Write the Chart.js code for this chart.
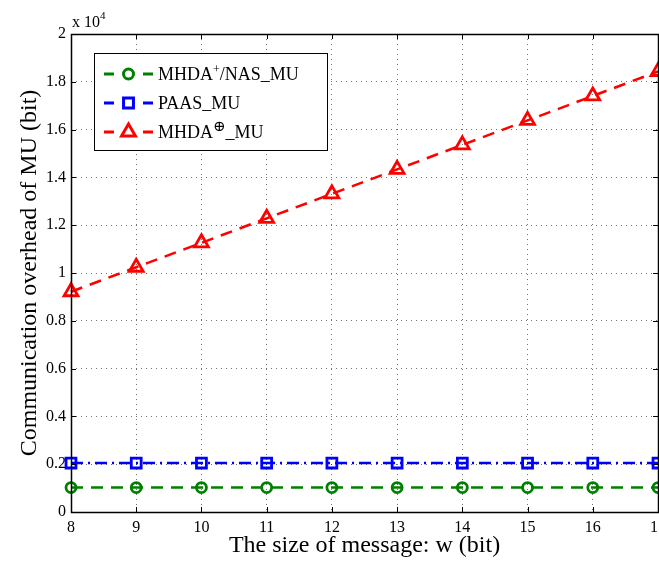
<!DOCTYPE html>
<html>
<head>
<meta charset="utf-8">
<title>Communication overhead of MU</title>
<script src="https://cdn.jsdelivr.net/npm/chart.js"></script>
<style>
  html, body { margin: 0; padding: 0; background: #fff; overflow: hidden; }
  #wrap { width: 659px; height: 563px; overflow: hidden; }
</style>
</head>
<body>
<div id="wrap"><canvas id="overheadChart" width="720" height="563"></canvas></div>
<script>
// --- Data (bits) ---
const msgSizes = [8, 9, 10, 11, 12, 13, 14, 15, 16, 17];
const nasOverhead = [1024, 1024, 1024, 1024, 1024, 1024, 1024, 1024, 1024, 1024];
const paasOverhead = [2048, 2048, 2048, 2048, 2048, 2048, 2048, 2048, 2048, 2048];
const mhdaOverhead = [9216, 10240, 11264, 12288, 13312, 14336, 15360, 16384, 17408, 18432];
const yTickValues = [0, 2000, 4000, 6000, 8000, 10000, 12000, 14000, 16000, 18000, 20000];

const SERIF = '"Liberation Serif", "Times New Roman", "DejaVu Serif", serif';

// legend entries: text pieces, sup = superscript
const legendItems = [
    { parts: [{ t: 'MHDA' }, { t: '+', sup: true, size: 12 }, { t: '/NAS_MU' }], color: '#008000', style: 'circle', radius: 5 },
    { parts: [{ t: 'PAAS_MU' }], color: '#0000ff', style: 'rect', radius: 7 },
    { parts: [{ t: 'MHDA' }, { t: '\u2295', sup: true, size: 15 }, { t: '_MU' }], color: '#ff0000', style: 'triangle', radius: 8 }
];

const toPoints = (vals) => msgSizes.map((x, i) => ({ x: x, y: vals[i] }));

// --- box, inward ticks, exponent label and legend (MATLAB look) ---
const matlabFrame = {
    id: 'matlabFrame',
    afterDraw(chart) {
        const { ctx, chartArea: { left, top, right, bottom } } = chart;
        const xs = chart.scales.x, ys = chart.scales.y;
        ctx.save();
        ctx.strokeStyle = '#000';
        ctx.lineWidth = 1;
        ctx.setLineDash([]);

        // inward ticks
        ctx.beginPath();
        msgSizes.forEach(v => {
            const px = Math.round(xs.getPixelForValue(v)) + 0.5;
            ctx.moveTo(px, bottom); ctx.lineTo(px, bottom - 5);
            ctx.moveTo(px, top); ctx.lineTo(px, top + 5);
        });
        yTickValues.forEach(v => {
            const py = Math.round(ys.getPixelForValue(v)) + 0.5;
            ctx.moveTo(left, py); ctx.lineTo(left + 5, py);
            ctx.moveTo(right, py); ctx.lineTo(right - 5, py);
        });
        ctx.stroke();

        // axes box
        ctx.lineWidth = 1.5;
        ctx.strokeRect(Math.round(left) + 0.5, Math.round(top) + 0.5,
            Math.round(right - left), Math.round(bottom - top));

        // x 10^4
        ctx.fillStyle = '#000';
        ctx.textBaseline = 'alphabetic';
        ctx.textAlign = 'left';
        ctx.font = '16px ' + SERIF;
        ctx.fillText('x 10', left + 1, top - 7);
        const w = ctx.measureText('x 10').width;
        ctx.font = '11px ' + SERIF;
        ctx.fillText('4', left + 1 + w, top - 15);

        // legend
        const bx = 94, by = 53, bw = 233, bh = 97;
        ctx.fillStyle = '#fff';
        ctx.fillRect(bx, by, bw, bh);
        ctx.lineWidth = 1;
        ctx.strokeStyle = '#000';
        ctx.strokeRect(bx + 0.5, by + 0.5, bw, bh);
        const rowY = [74, 103, 132];
        legendItems.forEach((item, i) => {
            const y = rowY[i];
            ctx.strokeStyle = item.color;
            ctx.fillStyle = item.color;
            ctx.lineWidth = 3;
            ctx.beginPath();
            ctx.moveTo(104, y); ctx.lineTo(114, y);
            ctx.moveTo(143, y); ctx.lineTo(153, y);
            ctx.stroke();
            ctx.fillStyle = 'rgba(0,0,0,0)';
            Chart.helpers.drawPoint(ctx, { pointStyle: item.style, radius: item.radius, borderWidth: 3, rotation: 0 }, 128.5, y);
            let tx = 158;
            ctx.fillStyle = '#000';
            ctx.textBaseline = 'alphabetic';
            item.parts.forEach(p => {
                if (p.sup) {
                    ctx.font = p.size + 'px ' + SERIF;
                    ctx.fillText(p.t, tx, y - 1);
                } else {
                    ctx.font = '18px ' + SERIF;
                    ctx.fillText(p.t, tx, y + 6);
                }
                tx += ctx.measureText(p.t).width;
            });
        });
        ctx.restore();
    }
};

const baseLine = {
    fill: false,
    tension: 0,
    borderWidth: 2.5,
    pointBorderWidth: 2.8,
    pointBackgroundColor: 'rgba(0,0,0,0)',
    clip: false
};

new Chart(document.getElementById('overheadChart'), {
    type: 'line',
    data: {
        datasets: [
            Object.assign({}, baseLine, {
                label: 'MHDA+/NAS_MU',
                data: toPoints(nasOverhead),
                borderColor: '#008000',
                pointBorderColor: '#008000',
                borderDash: [12, 8],
                pointStyle: 'circle',
                pointRadius: 5
            }),
            Object.assign({}, baseLine, {
                label: 'PAAS_MU',
                data: toPoints(paasOverhead),
                borderColor: '#0000ff',
                pointBorderColor: '#0000ff',
                borderDash: [12, 5, 2, 5],
                pointStyle: 'rect',
                pointRadius: 7
            }),
            Object.assign({}, baseLine, {
                label: 'MHDA\u2295_MU',
                data: toPoints(mhdaOverhead),
                borderColor: '#ff0000',
                pointBorderColor: '#ff0000',
                borderDash: [12, 8],
                pointStyle: 'triangle',
                pointRadius: 8
            })
        ]
    },
    options: {
        responsive: false,
        animation: false,
        layout: { padding: { top: 34, right: 62, left: 0, bottom: 0 } },
        plugins: {
            legend: { display: false },
            tooltip: { enabled: false }
        },
        scales: {
            x: {
                type: 'linear',
                min: 8,
                max: 17,
                afterFit(scale) { scale.height = 51; },
                ticks: {
                    stepSize: 1,
                    padding: 6,
                    color: '#000',
                    font: { family: SERIF, size: 16 }
                },
                grid: { color: 'rgba(0,0,0,0.55)', lineWidth: 1, drawTicks: false },
                border: { display: false, dash: [1, 4] },
                title: {
                    display: true,
                    text: 'The size of message: w (bit)',
                    color: '#000',
                    font: { family: SERIF, size: 24 },
                    padding: { top: 0, bottom: 3 }
                }
            },
            y: {
                min: 0,
                max: 20000,
                afterFit(scale) { scale.width = 71; },
                afterBuildTicks(scale) { scale.ticks = yTickValues.map(v => ({ value: v })); },
                ticks: {
                    padding: 5,
                    color: '#000',
                    font: { family: SERIF, size: 16 },
                    callback: (v) => String(+(v / 10000).toFixed(1))
                },
                grid: { color: 'rgba(0,0,0,0.55)', lineWidth: 1, drawTicks: false },
                border: { display: false, dash: [1, 4] },
                title: {
                    display: true,
                    text: 'Communication overhead of MU (bit)',
                    color: '#000',
                    font: { family: SERIF, size: 24 },
                    padding: { top: 15, bottom: 0 }
                }
            }
        }
    },
    plugins: [matlabFrame]
});
</script>
</body>
</html>
